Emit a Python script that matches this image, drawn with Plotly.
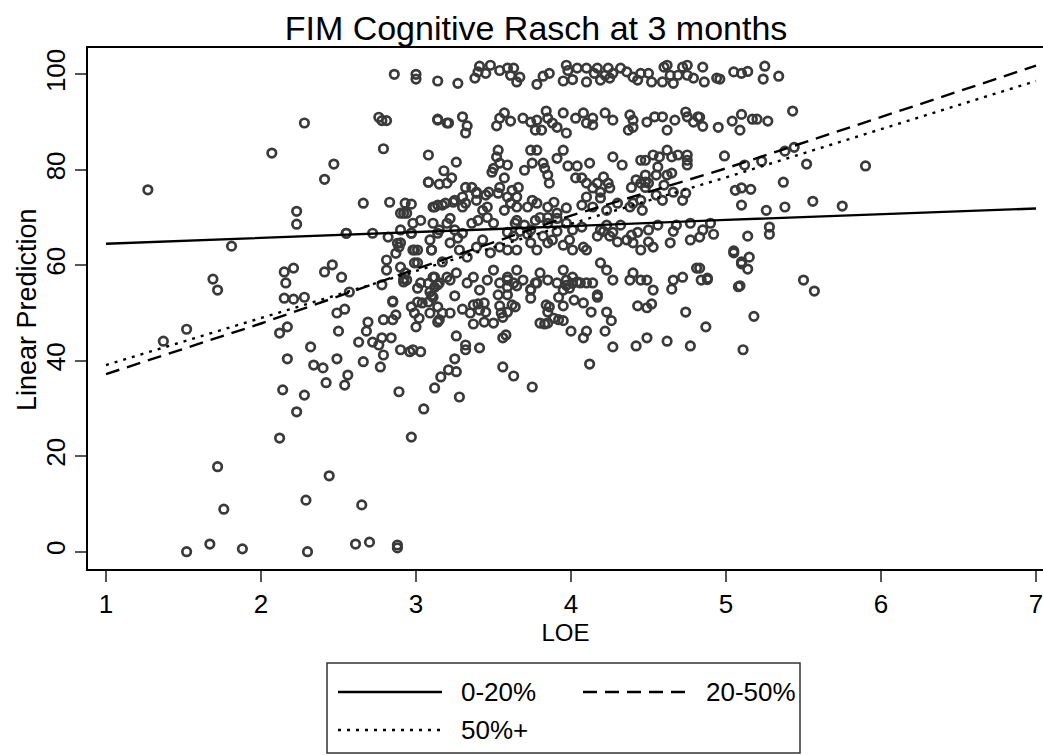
import plotly.graph_objects as go

# ---------------- data ----------------
# Fitted linear predictions by LOE group
line_x = [1, 2, 3, 4, 5, 6, 7]
pred_0_20 = [64.5, 65.7, 66.9, 68.2, 69.5, 70.7, 71.9]
pred_20_50 = [37.2, 47.8, 59.2, 70.4, 80.3, 91.0, 101.8]
pred_50p = [39.1, 48.9, 58.8, 68.7, 78.4, 88.5, 98.6]
group_names = ["0-20%", "20-50%", "50%+"]

# Observed FIM Cognitive Rasch scores (LOE, score), grouped by region of the plot
pts_left = [
    (1.27, 75.8), (1.37, 44.1), (1.52, 46.6), (1.52, 0.0), (1.67, 1.6), (1.88, 0.6),
    (1.69, 57.1), (1.72, 54.8), (1.72, 17.8), (1.76, 8.9), (1.81, 64.0),
    (2.07, 83.5), (2.12, 45.8), (2.17, 47.1), (2.17, 40.4), (2.14, 33.9), (2.28, 32.8),
    (2.23, 29.3), (2.12, 23.8), (2.29, 10.8), (2.30, 0.0), (2.44, 15.9), (2.65, 9.8),
    (2.61, 1.6), (2.70, 2.0), (2.88, 1.4), (2.88, 0.8), (2.28, 89.8),
    (2.15, 58.6), (2.21, 59.4), (2.16, 56.3), (2.15, 53.1), (2.21, 52.9), (2.28, 53.3),
    (2.23, 71.3), (2.23, 68.6), (2.32, 42.9), (2.34, 39.1), (2.40, 38.5), (2.41, 78.0),
    (2.47, 81.2), (2.41, 58.6), (2.46, 60.1), (2.52, 57.5), (2.49, 50.0), (2.54, 50.8),
    (2.50, 46.2), (2.49, 40.4), (2.42, 35.4), (2.56, 37.0), (2.54, 34.9), (2.57, 54.4),
    (2.55, 66.7), (2.66, 73.0), (2.66, 39.8), (2.63, 43.9), (2.69, 48.1), (2.68, 46.2),
    (2.72, 43.9), (2.72, 66.7), (2.76, 91.0), (2.81, 90.3), (2.78, 90.3), (2.79, 84.4),
    (2.77, 38.7), (2.78, 44.8), (2.76, 43.3), (2.79, 41.2), (2.79, 48.6), (2.84, 44.8),
    (2.85, 52.3), (2.85, 48.6), (2.87, 49.6), (2.83, 73.2), (2.82, 65.9), (2.86, 100.0),
    (2.81, 61.1), (2.81, 59.0), (2.78, 55.9), (2.85, 52.5), (2.89, 33.5),
]

pts_mid_low = [
    (2.88, 64.6), (2.89, 63.8), (2.87, 62.5), (2.99, 63.2), (3.10, 63.2), (3.01, 60.5),
    (3.17, 60.7), (2.92, 57.1), (2.93, 58.4), (3.12, 57.5), (3.14, 55.9), (3.20, 57.5),
    (3.01, 55.2), (3.09, 54.4), (3.11, 53.3), (3.12, 55.4), (3.08, 56.2), (2.92, 56.5),
    (2.90, 42.3), (2.96, 41.9), (2.98, 42.3), (3.03, 41.9), (3.00, 47.1), (3.02, 48.9),
    (2.97, 51.3), (2.99, 50.0), (3.01, 52.3), (3.04, 52.1), (3.08, 52.3), (3.09, 50.0),
    (3.14, 51.3), (3.15, 48.6), (3.17, 50.0), (3.12, 34.3), (3.16, 36.6), (3.21, 38.1),
    (3.05, 29.9), (2.97, 24.0), (3.25, 40.4), (3.26, 37.7), (3.28, 32.4),
    (3.32, 43.3), (3.32, 42.3), (3.41, 42.7), (3.26, 45.2), (3.56, 38.7), (3.63, 36.8),
    (3.75, 34.5), (4.12, 39.3), (3.56, 44.8), (3.58, 45.4), (4.00, 46.2), (4.10, 46.2),
    (4.08, 44.8), (4.22, 46.2), (4.27, 42.9), (4.42, 43.1), (4.49, 44.8), (4.62, 44.1),
    (4.77, 43.1), (4.87, 47.1), (5.11, 42.3), (5.09, 55.7), (4.65, 55.0), (4.74, 50.2),
    (4.43, 51.5), (4.49, 51.1), (4.52, 51.9), (4.26, 48.4), (4.23, 50.2), (4.13, 50.2),
    (4.08, 52.1), (4.02, 52.7), (4.17, 53.8), (4.17, 53.3), (3.95, 51.5), (3.92, 53.3),
    (3.95, 54.8), (3.97, 55.8), (3.99, 55.2), (4.01, 56.2), (4.04, 56.5),
    (3.80, 47.9), (3.83, 47.7), (3.85, 47.9), (3.86, 51.3), (3.85, 50.2), (3.84, 51.7),
    (3.89, 48.9), (3.92, 48.6), (3.95, 48.4), (3.74, 53.1), (3.74, 55.0), (3.77, 56.3),
    (3.56, 49.1), (3.59, 50.2), (3.54, 51.5), (3.55, 50.0), (3.64, 51.3), (3.62, 51.7),
    (3.59, 53.8), (3.53, 53.8), (3.59, 55.4), (3.65, 55.7), (3.59, 56.9),
    (3.50, 47.9), (3.44, 48.1), (3.37, 47.7), (3.45, 50.2), (3.41, 50.6), (3.44, 52.1),
    (3.40, 51.9), (3.37, 51.7), (3.30, 50.8), (3.35, 50.0), (3.22, 50.0), (3.14, 48.1),
    (3.25, 53.6), (3.10, 53.6), (5.18, 49.3), (5.50, 56.9), (5.57, 54.6), (4.88, 57.0),
]

pts_mid = [
    (2.90, 59.6), (2.94, 56.9), (3.03, 56.3), (3.11, 57.5), (3.15, 56.3), (3.22, 56.9),
    (3.26, 58.4), (3.33, 56.3), (3.37, 57.5), (3.41, 54.8), (3.46, 56.9), (3.50, 59.0),
    (3.54, 56.3), (3.59, 57.5), (3.63, 56.3), (3.65, 59.0), (3.69, 56.9), (3.74, 54.8),
    (3.78, 56.3), (3.80, 58.4), (3.85, 56.9), (3.91, 56.3), (3.95, 59.0), (3.97, 56.9),
    (4.01, 57.5), (4.06, 56.3), (4.10, 56.3), (4.14, 56.3), (4.19, 60.5), (4.23, 59.0),
    (4.27, 56.9), (4.38, 56.9), (4.40, 58.4), (4.45, 56.9), (4.49, 56.9), (4.53, 54.8),
    (4.66, 56.9), (4.72, 57.5), (4.81, 59.4),
    (2.90, 64.7), (2.98, 63.2), (3.09, 65.3), (3.10, 63.2), (3.22, 64.7), (3.27, 65.7),
    (3.28, 63.2), (3.33, 61.7), (3.39, 63.8), (3.43, 65.3), (3.48, 62.6), (3.54, 63.8),
    (3.59, 63.2), (3.65, 63.2), (3.63, 66.1), (3.67, 67.1), (3.72, 66.5), (3.74, 64.7),
    (3.78, 63.2), (3.82, 66.1), (3.85, 64.7), (3.88, 65.3), (3.91, 67.1), (3.95, 64.2),
    (3.99, 65.3), (4.01, 63.2), (4.08, 63.8), (4.10, 63.2), (4.17, 66.1), (4.21, 67.1),
    (4.25, 66.1), (4.30, 64.9), (4.36, 65.3), (4.40, 64.7), (4.45, 63.2), (4.50, 64.9),
    (4.53, 63.8), (4.66, 67.1), (4.64, 64.7), (4.77, 65.3), (4.83, 65.9),
    (2.90, 67.4), (2.97, 66.7), (3.03, 69.4), (3.11, 68.8), (3.22, 69.8), (3.15, 67.4),
    (3.25, 67.4), (3.30, 66.7), (3.36, 68.8), (3.40, 69.4), (3.46, 70.0), (3.50, 68.8),
    (3.59, 66.9), (3.65, 69.4), (3.64, 68.8), (3.70, 68.4), (3.74, 67.4), (3.77, 69.4),
    (3.80, 70.0), (3.85, 68.8), (3.91, 69.8), (3.97, 68.8), (4.01, 67.4), (4.07, 68.0),
    (4.19, 67.4), (4.23, 68.4), (4.27, 66.9), (4.32, 68.4), (4.39, 66.3), (4.43, 66.9),
    (4.50, 67.4), (4.56, 68.4), (4.68, 68.4), (4.77, 68.8),
    (2.55, 66.7), (2.97, 66.7), (3.14, 66.7), (3.01, 63.2), (2.99, 60.5), (3.20, 68.8),
    (2.93, 73.0), (2.92, 70.9), (2.94, 70.9), (2.98, 68.8), (3.12, 72.2), (3.17, 72.6),
]

pts_upper_mid = [
    (3.32, 76.3), (3.36, 76.3), (3.39, 75.1), (3.30, 74.3), (3.25, 73.6), (3.26, 81.6),
    (3.18, 79.8), (3.23, 78.3), (3.08, 77.4), (3.15, 77.0), (3.20, 77.2), (3.08, 83.1),
    (3.53, 84.1), (3.52, 82.7), (3.54, 81.4), (3.59, 81.0), (3.50, 80.3), (3.49, 79.5),
    (3.57, 78.3), (3.54, 76.3), (3.47, 75.3), (3.53, 75.1), (3.59, 74.3), (3.62, 75.7),
    (3.66, 76.3), (3.65, 74.3),
    (3.70, 79.9), (3.75, 81.4), (3.74, 84.1), (3.78, 84.1), (3.82, 81.4), (3.83, 80.3),
    (3.85, 78.9), (3.86, 77.2), (3.91, 82.4), (3.95, 84.1), (3.98, 80.8), (4.04, 80.8),
    (4.12, 81.4), (4.03, 78.3), (4.07, 78.3), (4.10, 77.2), (4.17, 77.2), (4.21, 78.5),
    (4.24, 77.2), (4.19, 75.3), (4.14, 76.2),
    (4.27, 82.7), (4.33, 81.0), (4.45, 82.0), (4.48, 82.0), (4.53, 83.1), (4.57, 82.7),
    (4.62, 84.1), (4.65, 82.7), (4.69, 83.1), (4.75, 82.0), (4.75, 81.0), (4.75, 83.1),
    (4.56, 80.6), (4.55, 78.9), (4.62, 78.9), (4.65, 79.3), (4.48, 78.9), (4.48, 77.4),
    (4.50, 77.2), (4.45, 77.2), (4.39, 76.3), (4.42, 77.9), (4.48, 76.3), (4.60, 76.8),
    (4.66, 75.3), (4.72, 73.6), (4.74, 75.1), (4.55, 74.7), (4.59, 73.6), (4.45, 73.6),
    (4.40, 73.0), (4.38, 72.2), (4.46, 71.5), (4.30, 73.0), (4.23, 71.5), (4.14, 72.2),
    (4.07, 72.6), (3.97, 72.0), (4.10, 74.3), (4.19, 74.1), (4.25, 76.2),
    (3.85, 72.2), (3.89, 73.2), (3.91, 70.9), (3.85, 70.0), (3.78, 73.0), (3.75, 73.6),
    (3.72, 72.2), (3.65, 72.2), (3.61, 73.0), (3.57, 71.5), (3.43, 71.5), (3.39, 73.6),
    (3.39, 75.3), (3.45, 74.7), (3.46, 72.2), (3.32, 73.0), (3.30, 72.2), (3.24, 73.2),
    (3.19, 73.0), (3.11, 72.2), (3.14, 72.6),
    (2.90, 70.9), (3.14, 90.6), (3.20, 89.8), (3.08, 77.4), (2.97, 72.8),
]

pts_top = [
    (3.00, 100.0), (3.00, 99.0), (3.14, 98.6), (3.27, 98.1), (3.38, 99.2), (3.41, 101.7),
    (3.40, 100.5), (3.45, 100.2), (3.48, 101.9), (3.54, 100.8), (3.59, 101.3), (3.61, 99.8),
    (3.63, 101.3), (3.65, 98.4), (3.67, 99.4), (3.78, 97.9), (3.82, 99.6), (3.86, 100.2),
    (3.95, 98.6), (3.97, 101.9), (3.98, 100.8), (4.01, 98.9), (4.04, 101.3), (4.10, 101.3),
    (4.10, 98.4), (4.15, 100.2), (4.17, 101.3), (4.19, 98.8), (4.22, 99.8), (4.24, 101.3),
    (4.25, 99.2), (4.27, 100.2), (4.32, 101.3), (4.36, 100.5), (4.40, 99.4), (4.43, 98.8),
    (4.45, 100.2), (4.50, 100.2), (4.52, 98.4), (4.59, 98.4), (4.60, 101.5), (4.62, 101.9),
    (4.64, 99.8), (4.66, 98.1), (4.69, 99.8), (4.72, 101.5), (4.75, 101.9), (4.75, 99.8),
    (4.79, 99.2),
    (3.14, 90.4), (3.21, 89.8), (3.30, 91.1), (3.33, 89.2), (3.32, 87.7),
    (3.52, 89.2), (3.54, 90.8), (3.57, 91.9), (3.61, 90.2), (3.69, 90.8), (3.74, 90.0),
    (3.77, 88.3), (3.78, 90.4), (3.81, 88.3), (3.84, 92.3), (3.85, 90.8), (3.88, 89.8),
    (3.91, 88.9), (3.95, 91.9), (3.97, 87.7), (4.03, 90.8), (4.08, 91.9), (4.10, 89.8),
    (4.14, 90.8), (4.14, 89.4), (4.22, 91.9), (4.27, 90.4), (4.38, 91.5), (4.37, 88.3),
    (4.40, 88.9), (4.40, 90.4), (4.49, 90.0), (4.54, 91.1), (4.59, 91.1), (4.62, 88.3),
    (4.67, 90.4), (4.74, 92.1), (4.75, 91.1), (4.79, 90.0), (4.82, 91.1),
]

pts_right = [
    (4.85, 101.5), (4.86, 98.4), (4.94, 99.2), (4.96, 99.0), (5.05, 100.5), (5.10, 100.2),
    (5.14, 100.6), (5.25, 101.7), (5.24, 99.0), (5.34, 99.6),
    (4.83, 91.0), (4.85, 89.1), (4.95, 88.9), (5.04, 90.2), (5.09, 88.3), (5.10, 91.6),
    (5.17, 90.6), (5.20, 90.6), (5.27, 90.2), (5.43, 92.3),
    (4.99, 82.9), (5.12, 81.0), (5.23, 81.8), (5.38, 83.9), (5.44, 84.7), (5.52, 81.2),
    (5.90, 80.8), (5.06, 75.7), (5.10, 76.2), (5.16, 75.9), (5.37, 77.4),
    (5.10, 72.6), (5.26, 71.5), (5.38, 72.2), (5.56, 73.4), (5.75, 72.4),
    (4.90, 68.8), (4.85, 67.4), (4.92, 66.5), (5.14, 66.1), (5.28, 68.0), (5.28, 66.5),
    (5.05, 63.0), (5.10, 60.7), (5.15, 61.7), (5.14, 59.2), (4.83, 59.4), (4.88, 57.3),
    (4.84, 56.9), (5.08, 55.5), (5.05, 62.6), (5.10, 60.3),
]

all_pts = pts_left + pts_mid_low + pts_mid + pts_upper_mid + pts_top + pts_right
loe = [p[0] for p in all_pts]
score = [p[1] for p in all_pts]

# ---------------- figure ----------------
W, H = 1043, 755
ML, MR, MT, MB = 88, 0, 48, 186
FONT = "Liberation Sans, Arial, sans-serif"

fig = go.Figure()
fig.add_trace(go.Scatter(
    x=loe, y=score, mode="markers", showlegend=False, hoverinfo="skip",
    marker=dict(symbol="circle-open", size=8.5, color="#3a3a3a",
                line=dict(width=2.7, color="#3a3a3a")),
))
line_styles = [("solid", 2.4), ("14px,8px", 2.4), ("3px,6px", 2.4)]
for name, ys, (dash, w) in zip(group_names, [pred_0_20, pred_20_50, pred_50p], line_styles):
    fig.add_trace(go.Scatter(x=line_x, y=ys, mode="lines", name=name, showlegend=False,
                             line=dict(color="black", width=w, dash=dash)))

fig.update_layout(
    width=W, height=H, margin=dict(l=ML, r=MR, t=MT, b=MB, autoexpand=False),
    paper_bgcolor="white", plot_bgcolor="white",
    font=dict(family=FONT, color="black"),
    title=dict(text="FIM Cognitive Rasch at 3 months", x=536 / W, xanchor="center",
               y=1 - 28 / H, yanchor="middle", font=dict(size=34, family=FONT)),
)
fig.update_xaxes(
    range=[1 - (106 - 88) / 155, 1 + (1043 - 106) / 155], automargin=False,
    tickvals=[1, 2, 3, 4, 5, 6, 7], ticks="outside", ticklen=11, tickwidth=1.5,
    tickcolor="#555555", showline=True, linecolor="black", linewidth=1.6, mirror=True,
    showgrid=False, zeroline=False, tickfont=dict(size=26), ticklabeloverflow="allow",
    title=dict(text="LOE", font=dict(size=24), standoff=6),
)
fig.update_yaxes(
    range=[(551.7 - 569) / 4.774, (551.7 - 48) / 4.774], automargin=False,
    tickvals=[0, 20, 40, 60, 80, 100], tickangle=-90, ticks="outside", ticklen=11,
    tickwidth=1.5, tickcolor="#555555", showline=True, linecolor="black", linewidth=1.6,
    showgrid=False, zeroline=False, tickfont=dict(size=26), ticklabeloverflow="allow",
)

# ---------------- helpers for pixel placement of decorations ----------------
PW, PH = W - ML - MR, H - MT - MB
def px(xp):
    return (xp - ML) / PW
def py(yp):
    return 1 - (yp - MT) / PH

# y-axis title
fig.add_annotation(text="Linear Prediction", xref="paper", yref="paper", x=px(27), y=py(310),
                   xanchor="center", yanchor="middle", textangle=-90, showarrow=False,
                   font=dict(size=27, family=FONT, color="black"))

# legend drawn below the plot
fig.add_shape(type="rect", xref="paper", yref="paper", x0=px(327), x1=px(800),
              y0=py(753), y1=py(663), line=dict(color="#333333", width=1.5),
              fillcolor="white")
legend_items = [
    (group_names[0], 338, 442, 692, "solid"),
    (group_names[1], 583, 687, 692, "14px,8px"),
    (group_names[2], 338, 442, 730, "3px,6px"),
]
for name, x0, x1, yy, dash in legend_items:
    fig.add_shape(type="line", xref="paper", yref="paper", x0=px(x0), x1=px(x1),
                  y0=py(yy), y1=py(yy), line=dict(color="black", width=2.4, dash=dash))
    fig.add_annotation(text=name, xref="paper", yref="paper", x=px(x1 + 17), y=py(yy),
                       xanchor="left", yanchor="middle", showarrow=False,
                       font=dict(size=26, family=FONT, color="black"))

# remove the browser's default 8px page margin so the figure sits at the window origin
fig.write_html("out.html", config={"displayModeBar": False},
               post_script="document.body.style.margin='0';document.body.style.overflow='hidden';")
